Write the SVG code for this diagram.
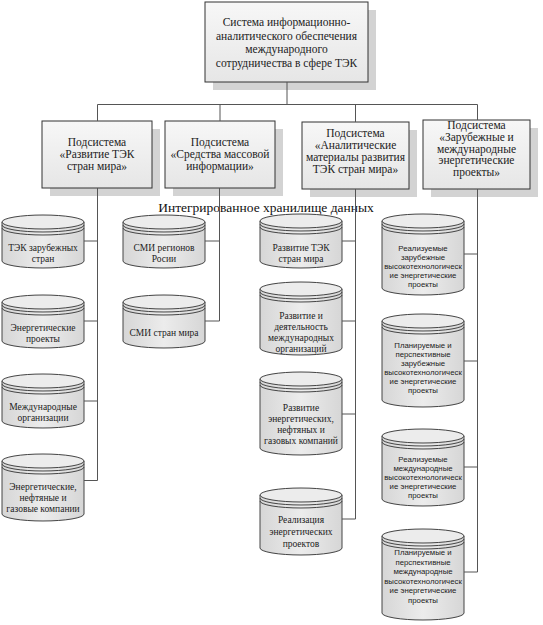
<svg xmlns="http://www.w3.org/2000/svg" width="543" height="625" viewBox="0 0 543 625">
<defs>
<linearGradient id="boxg" x1="0" y1="0" x2="0" y2="1"><stop offset="0" stop-color="#f7f7f7"/><stop offset="1" stop-color="#e6e6e6"/></linearGradient>
<linearGradient id="cylg" x1="0" y1="0" x2="1" y2="0"><stop offset="0" stop-color="#d6d6d6"/><stop offset="0.5" stop-color="#ececec"/><stop offset="1" stop-color="#d6d6d6"/></linearGradient>
<g id="cap"><ellipse cx="41" cy="7" rx="41" ry="7" fill="#ececec"/><path d="M0,10 A41,7 0 0 0 82,10 M0,13 A41,7 0 0 0 82,13" fill="none"/></g>
</defs>
<style>
.bg{fill:#fff}
.box{fill:url(#boxg);stroke:#333;stroke-width:1}
.sh{fill:#d3d3d3}
.cyl{fill:url(#cylg);stroke:#444;stroke-width:1}
.capu{stroke:#444;stroke-width:1}
.t,.ct,.ttl,.st{fill:#222;text-anchor:middle}
.t{font-size:11.5px}
.ct{font-size:9.5px}
.st{font-size:7.8px}
.ttl{font-size:13.5px;fill:#111}
.ln{fill:none;stroke:#555;stroke-width:1}
</style>
<rect class="bg" x="0" y="0" width="543" height="625"/>

<g font-family="'Liberation Serif', 'Times New Roman', serif">
<g id="root">
<rect class="sh" x="213" y="10" width="163" height="80"/>
<rect class="box" x="205" y="2" width="163" height="80"/>
<text class="t" x="286.5" y="26">Система информационно-</text>
<text class="t" x="286.5" y="39.5">аналитического обеспечения</text>
<text class="t" x="286.5" y="53">международного</text>
<text class="t" x="286.5" y="66.5">сотрудничества в сфере ТЭК</text>
</g>

<g id="sub1">
<rect class="sh" x="50" y="129" width="110" height="67"/>
<rect class="box" x="42" y="121" width="110" height="67"/>
<text class="t" x="97" y="146">Подсистема</text>
<text class="t" x="97" y="158">«Развитие ТЭК</text>
<text class="t" x="97" y="170">стран мира»</text>
</g>
<g id="sub2">
<rect class="sh" x="173" y="129" width="110" height="67"/>
<rect class="box" x="165" y="121" width="110" height="67"/>
<text class="t" x="220" y="146">Подсистема</text>
<text class="t" x="220" y="158">«Средства массовой</text>
<text class="t" x="220" y="170">информации»</text>
</g>
<g id="sub3">
<rect class="sh" x="310" y="130" width="107" height="67"/>
<rect class="box" x="302" y="122" width="107" height="67"/>
<text class="t" x="355.5" y="137">Подсистема</text>
<text class="t" x="355.5" y="149">«Аналитические</text>
<text class="t" x="355.5" y="161">материалы развития</text>
<text class="t" x="355.5" y="173">ТЭК стран мира»</text>
</g>
<g id="sub4">
<rect class="sh" x="431" y="128" width="107" height="69"/>
<rect class="box" x="423" y="120" width="107" height="69"/>
<text class="t" x="476.5" y="129">Подсистема</text>
<text class="t" x="476.5" y="141">«Зарубежные и</text>
<text class="t" x="476.5" y="152.5">международные</text>
<text class="t" x="476.5" y="164">энергетические</text>
<text class="t" x="476.5" y="176">проекты»</text>
</g>

<text id="storage-title" class="ttl" x="266" y="212">Интегрированное хранилище данных</text>

<!-- column 1 -->
<g id="c1a" transform="translate(2,215)">
<path class="cyl" d="M0,7 V46 A41,7 0 0 0 82,46 V7"/><use href="#cap" class="capu"/>
<text class="ct" x="41" y="36">ТЭК зарубежных</text><text class="ct" x="41" y="47">стран</text>
</g>
<g id="c1b" transform="translate(2,295)">
<path class="cyl" d="M0,7 V46 A41,7 0 0 0 82,46 V7"/><use href="#cap" class="capu"/>
<text class="ct" x="41" y="36">Энергетические</text><text class="ct" x="41" y="47">проекты</text>
</g>
<g id="c1c" transform="translate(2,374)">
<path class="cyl" d="M0,7 V47 A41,7 0 0 0 82,47 V7"/><use href="#cap" class="capu"/>
<text class="ct" x="41" y="36">Международные</text><text class="ct" x="41" y="47">организации</text>
</g>
<g id="c1d" transform="translate(2,454)">
<path class="cyl" d="M0,7 V60 A41,7 0 0 0 82,60 V7"/><use href="#cap" class="capu"/>
<text class="ct" x="41" y="36">Энергетические,</text><text class="ct" x="41" y="47">нефтяные и</text><text class="ct" x="41" y="58">газовые компании</text>
</g>

<!-- column 2 -->
<g id="c2a" transform="translate(123,215)">
<path class="cyl" d="M0,7 V46 A41,7 0 0 0 82,46 V7"/><use href="#cap" class="capu"/>
<text class="ct" x="41" y="36">СМИ регионов</text><text class="ct" x="41" y="47">Росии</text>
</g>
<g id="c2b" transform="translate(123,295)">
<path class="cyl" d="M0,7 V46 A41,7 0 0 0 82,46 V7"/><use href="#cap" class="capu"/>
<text class="ct" x="41" y="41">СМИ стран мира</text>
</g>

<!-- column 3 -->
<g id="c3a" transform="translate(260,214)">
<path class="cyl" d="M0,7 V47 A41,7 0 0 0 82,47 V7"/><use href="#cap" class="capu"/>
<text class="ct" x="41" y="37">Развитие ТЭК</text><text class="ct" x="41" y="48">стран мира</text>
</g>
<g id="c3b" transform="translate(260,282)">
<path class="cyl" d="M0,7 V66 A41,7 0 0 0 82,66 V7"/><use href="#cap" class="capu"/>
<text class="ct" x="41" y="37">Развитие и</text><text class="ct" x="41" y="48">деятельность</text><text class="ct" x="41" y="59">международных</text><text class="ct" x="41" y="70">организаций</text>
</g>
<g id="c3c" transform="translate(260,372)">
<path class="cyl" d="M0,7 V76 A41,7 0 0 0 82,76 V7"/><use href="#cap" class="capu"/>
<text class="ct" x="41" y="39">Развитие</text><text class="ct" x="41" y="50">энергетических,</text><text class="ct" x="41" y="61">нефтяных и</text><text class="ct" x="41" y="72">газовых компаний</text>
</g>
<g id="c3d" transform="translate(260,488)">
<path class="cyl" d="M0,7 V60 A41,7 0 0 0 82,60 V7"/><use href="#cap" class="capu"/>
<text class="ct" x="41" y="35">Реализация</text><text class="ct" x="41" y="47">энергетических</text><text class="ct" x="41" y="59">проектов</text>
</g>
</g>

<!-- column 4 -->
<g font-family="'Liberation Sans', Arial, sans-serif">
<g id="c4a" transform="translate(382,214)">
<path class="cyl" d="M0,7 V74 A41,7 0 0 0 82,74 V7"/><use href="#cap" class="capu"/>
<text class="st" x="41" y="36.5">Реализуемые</text><text class="st" x="41" y="45.5">зарубежные</text><text class="st" x="41" y="54.5">высокотехнологическ</text><text class="st" x="41" y="63.5">ие энергетические</text><text class="st" x="41" y="72.5">проекты</text>
</g>
<g id="c4b" transform="translate(382,314)">
<path class="cyl" d="M0,7 V86 A41,7 0 0 0 82,86 V7"/><use href="#cap" class="capu"/>
<text class="st" x="41" y="34">Планируемые и</text><text class="st" x="41" y="43">перспективные</text><text class="st" x="41" y="52">зарубежные</text><text class="st" x="41" y="61">высокотехнологическ</text><text class="st" x="41" y="70">ие энергетические</text><text class="st" x="41" y="79">проекты</text>
</g>
<g id="c4c" transform="translate(382,429)">
<path class="cyl" d="M0,7 V70 A41,7 0 0 0 82,70 V7"/><use href="#cap" class="capu"/>
<text class="st" x="41" y="33">Реализуемые</text><text class="st" x="41" y="42">международные</text><text class="st" x="41" y="51">высокотехнологическ</text><text class="st" x="41" y="60">ие энергетические</text><text class="st" x="41" y="69">проекты</text>
</g>
<g id="c4d" transform="translate(382,529)">
<path class="cyl" d="M0,7 V84 A41,7 0 0 0 82,84 V7"/><use href="#cap" class="capu"/>
<text class="st" x="41" y="26">Планируемые и</text><text class="st" x="41" y="35.5">перспективные</text><text class="st" x="41" y="45">международные</text><text class="st" x="41" y="54.5">высокотехнологическ</text><text class="st" x="41" y="64">ие энергетические</text><text class="st" x="41" y="73.5">проекты</text>
</g>
</g>

<g id="connectors" class="ln">
<path d="M287,82 V104.5 M97.5,104.5 H477.5 M97.5,104.5 V121 M220,104.5 V121 M355.5,104.5 V122 M477.5,104.5 V120"/>
<path d="M97.5,188 V480.5 M84,241 H97.5 M84,321 H97.5 M84,401 H97.5 M84,480.5 H97.5"/>
<path d="M219.5,188 V321 M205,241 H219.5 M205,321 H219.5"/>
<path d="M355.5,189 V519 M342,241 H355.5 M342,321 H355.5 M342,414 H355.5 M342,519 H355.5"/>
<path d="M477.5,189 V572 M464,254 H477.5 M464,361 H477.5 M464,467 H477.5 M464,572 H477.5"/>
</g>
</svg>
